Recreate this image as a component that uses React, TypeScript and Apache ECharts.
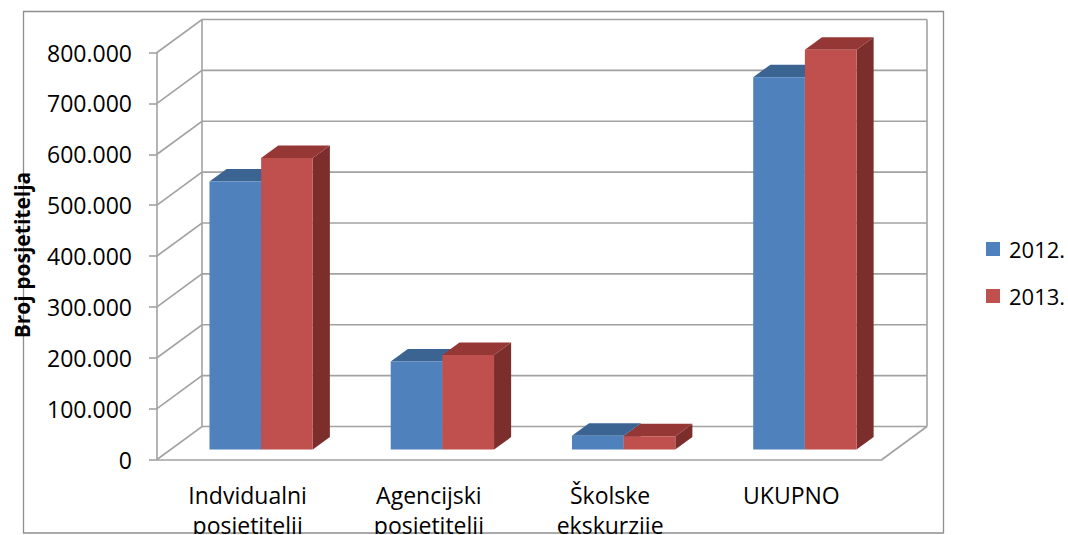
import React, { useEffect, useRef } from "react";
import * as echarts from "echarts";

const categories = [
  "Indvidualni\nposjetitelji",
  "Agencijski\nposjetitelji",
  "Školske\nekskurzije",
  "UKUPNO",
];
const seriesNames = ["2012.", "2013."];
const values2012 = [527000, 173000, 27000, 732000];
const values2013 = [573000, 186000, 26000, 786000];
const yTicks = [0, 100000, 200000, 300000, 400000, 500000, 600000, 700000, 800000];

const FONT = '"Open Sans", "Noto Sans", sans-serif';
const GRID_COLOR = "#a2a2a2";
// depth vector of the 3D box (back wall offset)
const DEPTH_X = 45;
const DEPTH_Y = -33;
const BAR_FRONT = 0.3;
const BAR_BACK = 0.68;

const palettes = [
  { front: "#4F81BD", top: "#3C6493", side: "#385D8A" },
  { front: "#C0504D", top: "#943735", side: "#7C2E2C" },
];

function fmt(v: number) {
  return String(v).replace(/\B(?=(\d{3})+(?!\d))/g, ".");
}

export default function App() {
  const ref = useRef<HTMLDivElement>(null);
  useEffect(() => {
    if (!ref.current) return;
    const chart = echarts.init(ref.current, null, { renderer: "svg" });

    const wallSeries = {
      type: "custom",
      name: "walls",
      z: 1,
      silent: true,
      data: yTicks.map((v) => [0, v]),
      renderItem: (params: any, api: any) => {
        const cs = params.coordSys;
        const v = api.value(1);
        const y = api.coord([0, v])[1];
        const left = cs.x;
        const right = cs.x + cs.width;
        const children: any[] = [
          {
            type: "polyline",
            shape: {
              points: [
                [left, y],
                [left + DEPTH_X, y + DEPTH_Y],
                [right + DEPTH_X, y + DEPTH_Y],
              ],
            },
            style: { stroke: GRID_COLOR, lineWidth: 1.6, fill: "none" },
          },
        ];
        if (params.dataIndex === 0) {
          const top = cs.y;
          const bottom = cs.y + cs.height;
          // back wall vertical edges
          children.push({
            type: "line",
            shape: { x1: left + DEPTH_X, y1: top + DEPTH_Y, x2: left + DEPTH_X, y2: bottom + DEPTH_Y },
            style: { stroke: GRID_COLOR, lineWidth: 1.6 },
          });
          children.push({
            type: "line",
            shape: { x1: right + DEPTH_X, y1: top + DEPTH_Y, x2: right + DEPTH_X, y2: bottom + DEPTH_Y },
            style: { stroke: GRID_COLOR, lineWidth: 1.6 },
          });
          // floor right edge
          children.push({
            type: "line",
            shape: { x1: right, y1: bottom, x2: right + DEPTH_X, y2: bottom + DEPTH_Y },
            style: { stroke: GRID_COLOR, lineWidth: 1.6 },
          });
        }
        return { type: "group", children };
      },
    };

    const barSeries = [values2012, values2013].map((vals, s) => ({
      type: "custom",
      name: seriesNames[s],
      z: 2 + s,
      itemStyle: { color: palettes[s].front },
      data: vals.map((v, i) => [i, v]),
      renderItem: (params: any, api: any) => {
        const i = api.value(0);
        const v = api.value(1);
        const p = api.coord([i, v]);
        const p0 = api.coord([i, 0]);
        const band = api.size([1, 0])[0];
        const bw = band * 0.285;
        const fx = p[0] + BAR_FRONT * DEPTH_X;
        const x0 = s === 0 ? fx - bw : fx;
        const x1 = x0 + bw;
        const yTop = p[1] + BAR_FRONT * DEPTH_Y;
        const yBot = p0[1] + BAR_FRONT * DEPTH_Y;
        const ddx = (BAR_BACK - BAR_FRONT) * DEPTH_X;
        const ddy = (BAR_BACK - BAR_FRONT) * DEPTH_Y;
        const pal = palettes[s];
        return {
          type: "group",
          children: [
            {
              type: "polygon",
              shape: { points: [[x1, yTop], [x1 + ddx, yTop + ddy], [x1 + ddx, yBot + ddy], [x1, yBot]] },
              style: { fill: pal.side },
            },
            {
              type: "polygon",
              shape: { points: [[x0, yTop], [x1, yTop], [x1 + ddx, yTop + ddy], [x0 + ddx, yTop + ddy]] },
              style: { fill: pal.top },
            },
            {
              type: "rect",
              shape: { x: x0, y: yTop, width: bw, height: yBot - yTop },
              style: { fill: pal.front },
            },
          ],
        };
      },
    }));

    chart.setOption({
      animation: false,
      backgroundColor: "#ffffff",
      grid: {
        left: 157,
        top: 52.5,
        width: 725,
        height: 407,
        containLabel: false,
        outerBoundsMode: "none",
      },
      legend: {
        data: seriesNames,
        orient: "vertical",
        left: 986,
        top: 238,
        itemWidth: 14,
        itemHeight: 14,
        itemGap: 25,
        icon: "rect",
        padding: 0,
        textStyle: { fontFamily: FONT, fontSize: 22, color: "#000", padding: [0, 0, 0, 4] },
      },
      xAxis: {
        type: "category",
        data: categories,
        axisLine: { show: true, lineStyle: { color: GRID_COLOR, width: 1.6 } },
        axisTick: { show: false },
        splitLine: { show: false },
        axisLabel: {
          fontFamily: FONT,
          fontSize: 23,
          color: "#000",
          lineHeight: 30,
          margin: 20,
          interval: 0,
        },
      },
      yAxis: {
        type: "value",
        min: 0,
        max: 800000,
        interval: 100000,
        axisLine: { show: true, lineStyle: { color: GRID_COLOR, width: 1.6 } },
        axisTick: { show: true, length: 8, lineStyle: { color: GRID_COLOR, width: 1.6 } },
        splitLine: { show: false },
        axisLabel: {
          fontFamily: FONT,
          fontSize: 23,
          color: "#000",
          margin: 25,
          formatter: (v: number) => fmt(v),
        },
      },
      graphic: [
        {
          type: "rect",
          silent: true,
          z: 0,
          shape: { x: 23.5, y: 11.5, width: 920, height: 521.5 },
          style: { fill: "none", stroke: "#8e8e8e", lineWidth: 1.3 },
        },
        {
          type: "text",
          x: 22,
          y: 255,
          rotation: Math.PI / 2,
          z: 10,
          style: {
            text: "Broj posjetitelja",
            fontFamily: FONT,
            fontSize: 21,
            fontWeight: "bold",
            fill: "#000",
            align: "center",
            verticalAlign: "middle",
          },
        },
      ],
      series: [wallSeries, ...barSeries],
    });

    return () => chart.dispose();
  }, []);

  return (
    <div
      ref={ref}
      style={{ position: "absolute", left: 0, top: 0, width: 1068, height: 534, overflow: "hidden" }}
    />
  );
}
